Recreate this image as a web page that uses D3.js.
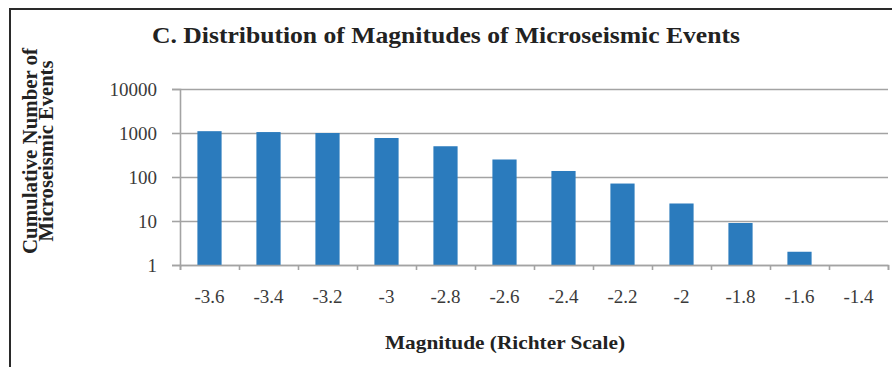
<!DOCTYPE html>
<html>
<head>
<meta charset="utf-8">
<script src="https://cdn.jsdelivr.net/npm/d3@7"></script>
<style>
  html, body { margin: 0; padding: 0; background: #ffffff; }
  svg { display: block; font-family: "Liberation Serif", "Times New Roman", serif; }
</style>
</head>
<body>
<svg id="chart" width="892" height="367"></svg>
<script>
// Cumulative counts of microseismic events by magnitude bin
const magnitudes = ["-3.6", "-3.4", "-3.2", "-3", "-2.8", "-2.6", "-2.4", "-2.2", "-2", "-1.8", "-1.6", "-1.4"];
const cumulativeEvents = [1100, 1050, 1000, 770, 500, 250, 137, 71, 25, 9, 2, 1];
const yTickValues = [1, 10, 100, 1000, 10000];

const svg = d3.select("#chart");

// panel frame (left and top edges visible)
svg.append("path")
  .attr("d", "M10,367 L10,9 L892,9")
  .attr("fill", "none")
  .attr("stroke", "#2a2a2a")
  .attr("stroke-width", 2);

const plot = { left: 180, right: 888, top: 89, bottom: 265 };

const x = d3.scaleBand()
  .domain(magnitudes)
  .range([plot.left, plot.right])
  .paddingInner(0.59)
  .paddingOuter(0.295);

const xEdges = d3.scaleLinear()
  .domain([0, magnitudes.length])
  .range([plot.left, plot.right]);

const y = d3.scaleLog()
  .domain([1, 10000])
  .range([plot.bottom, plot.top]);

// horizontal gridlines
const grid = svg.append("g")
  .attr("transform", `translate(${plot.left},0)`)
  .call(d3.axisLeft(y).tickValues(yTickValues).tickSize(-(plot.right - plot.left)).tickFormat(""));
grid.select(".domain").remove();
grid.selectAll("line").attr("stroke", "#a3a3a3").attr("stroke-width", 1.6);

// bars
svg.append("g")
  .selectAll("rect")
  .data(magnitudes.map((m, i) => ({ m, v: cumulativeEvents[i] })))
  .join("rect")
  .attr("x", d => x(d.m))
  .attr("width", x.bandwidth())
  .attr("y", d => y(d.v))
  .attr("height", d => y(1) - y(d.v))
  .attr("fill", "#2b7bbd");

// y axis
const yAxis = svg.append("g")
  .attr("transform", `translate(${plot.left},0)`)
  .call(d3.axisLeft(y).tickValues(yTickValues).tickFormat(d3.format("d")).tickSize(8).tickPadding(15));
yAxis.select(".domain").attr("stroke", "#a3a3a3").attr("stroke-width", 1.6);
yAxis.selectAll("line").attr("stroke", "#a3a3a3").attr("stroke-width", 1.6);
yAxis.selectAll("text")
  .attr("font-size", 19)
  .attr("fill", "#3a3a3a")
  .attr("font-family", "Liberation Serif, serif");

// x axis: category boundary ticks
const xTickAxis = svg.append("g")
  .attr("transform", `translate(0,${plot.bottom})`)
  .call(d3.axisBottom(xEdges).ticks(magnitudes.length).tickSize(5).tickFormat(""));
xTickAxis.select(".domain").attr("stroke", "#a3a3a3").attr("stroke-width", 1.6);
xTickAxis.selectAll("line").attr("stroke", "#a3a3a3").attr("stroke-width", 1.6);

// x axis: category labels
const xLabelAxis = svg.append("g")
  .attr("transform", `translate(0,${plot.bottom})`)
  .call(d3.axisBottom(x).tickSize(0).tickPadding(25));
xLabelAxis.select(".domain").remove();
xLabelAxis.selectAll("text")
  .attr("font-size", 19)
  .attr("fill", "#3a3a3a")
  .attr("font-family", "Liberation Serif, serif");

// chart title
svg.append("text")
  .attr("x", 446)
  .attr("y", 43)
  .attr("text-anchor", "middle")
  .attr("font-size", 24)
  .attr("font-weight", "bold")
  .attr("fill", "#222")
  .attr("textLength", 588)
  .attr("lengthAdjust", "spacingAndGlyphs")
  .text("C. Distribution of Magnitudes of Microseismic Events");

// x axis title
svg.append("text")
  .attr("x", 505)
  .attr("y", 349)
  .attr("text-anchor", "middle")
  .attr("font-size", 19)
  .attr("font-weight", "bold")
  .attr("fill", "#222")
  .attr("textLength", 240)
  .attr("lengthAdjust", "spacingAndGlyphs")
  .text("Magnitude (Richter Scale)");

// y axis title (two lines)
const yTitle = svg.append("g").attr("transform", "translate(0,151) rotate(-90)");
yTitle.append("text")
  .attr("x", 0).attr("y", 37)
  .attr("text-anchor", "middle")
  .attr("font-size", 20)
  .attr("font-weight", "bold")
  .attr("fill", "#222")
  .attr("textLength", 206)
  .attr("lengthAdjust", "spacingAndGlyphs")
  .text("Cumulative Number of");
yTitle.append("text")
  .attr("x", 0).attr("y", 53)
  .attr("text-anchor", "middle")
  .attr("font-size", 20)
  .attr("font-weight", "bold")
  .attr("fill", "#222")
  .attr("textLength", 181)
  .attr("lengthAdjust", "spacingAndGlyphs")
  .text("Microseismic Events");
</script>
</body>
</html>
